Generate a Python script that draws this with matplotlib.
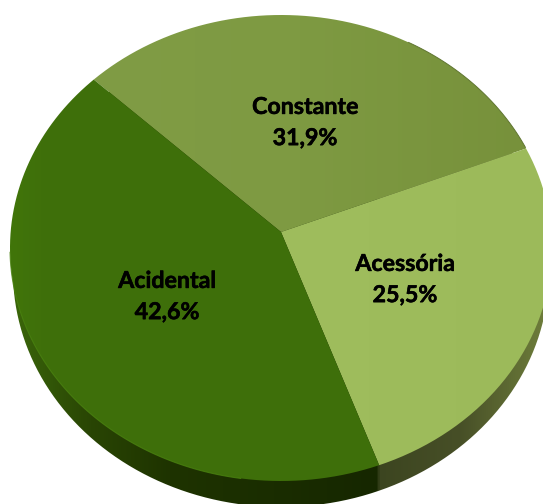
import numpy as np
from matplotlib import pyplot as plt
from matplotlib import patheffects
from matplotlib.colors import LinearSegmentedColormap
from matplotlib.patches import PathPatch
from matplotlib.path import Path

labels = ["Constante", "Acessória", "Acidental"]
values = [31.9, 25.5, 42.6]
pct_labels = ["31,9%", "25,5%", "42,6%"]
label_pos = [(305, 123), (405, 280), (167, 297)]

start_angle = 136.5

# top face is an ellipse, apex sits above its centre (perspective)
CX, CY, A, B = 281, 248, 271, 233
TILT = 16 / 233


def face_xy(theta):
    u = np.cos(theta)
    v = np.sin(theta)
    w = 1 + TILT * v
    vv = (v + TILT) / w
    uu = u * np.sqrt(1 - TILT**2) / w
    return CX + A * uu, CY - B * vv


def gradient_fill(ax, xs, ys, stops, x0, x1, zorder):
    cmap = LinearSegmentedColormap.from_list(
        "g", [((x - x0) / (x1 - x0), c) for x, c in stops]
    )
    ramp = np.linspace(0, 1, 512).reshape(1, -1)
    im = ax.imshow(ramp, cmap=cmap, extent=(x0, x1, 504, 0), aspect="auto", zorder=zorder)
    patch = PathPatch(Path(np.column_stack([xs, ys])), transform=ax.transData,
                      facecolor="none", edgecolor="none")
    ax.add_patch(patch)
    im.set_clip_path(patch)


fig = plt.figure(figsize=(5.43, 5.04), dpi=100)
ax = fig.add_axes([0, 0, 1, 1])
plt.rcParams["font.family"] = ["Lato", "DejaVu Sans"]

# side wall
t = np.linspace(0, 2 * np.pi, 400)
side_x = 281 + 268 * np.cos(t)
side_y = 272 + 235 * np.sin(t)
side_stops = [(0, "#3f6c0b"), (30, "#365e09"), (90, "#294504"), (170, "#1e3300"),
              (378.9, "#162700"), (379.1, "#3c4520"), (460, "#474f27"),
              (543, "#6c7b3a")]
gradient_fill(ax, side_x, side_y, side_stops, 0, 543, 1)

face_stops = {
    "Constante": [(90, "#809c45"), (300, "#7e9a42"), (530, "#77913b")],
    "Acessória": [(280, "#9fbd5d"), (545, "#9cba5a")],
    "Acidental": [(5, "#417609"), (40, "#3f700b"), (380, "#3e6f0a")],
}

angle = np.deg2rad(start_angle)
for name, val in zip(labels, values):
    sweep = -2 * np.pi * val / sum(values)
    th = np.linspace(angle, angle + sweep, 200)
    x, y = face_xy(th)
    xs = np.concatenate([[CX], x, [CX]])
    ys = np.concatenate([[CY - B * TILT], y, [CY - B * TILT]])
    stops = face_stops[name]
    gradient_fill(ax, xs, ys, stops, stops[0][0], stops[-1][0], 2)
    angle += sweep

# light rim on the lower left, thin dark edge upper right
th = np.deg2rad(np.linspace(185, 262, 100))
x, y = face_xy(th)
ax.plot(x, y, color="#4a8210", lw=0.8, alpha=0.8, zorder=3)
th = np.deg2rad(np.linspace(22, 60, 60))
x, y = face_xy(th)
ax.plot(x, y, color="#5f7530", lw=0.7, zorder=3)

for name, pct, (lx, ly) in zip(labels, pct_labels, label_pos):
    txt = ax.text(lx, ly, name + "\n" + pct, ha="center", va="center", fontsize=16.7,
                  fontweight="bold", color="black", linespacing=1.6, zorder=4)
    txt.set_path_effects([patheffects.withStroke(linewidth=0.4, foreground="black")])

ax.set_xlim(0, 543)
ax.set_ylim(504, 0)
ax.axis("off")
fig.savefig("out.png", dpi=100)
plt.close(fig)
